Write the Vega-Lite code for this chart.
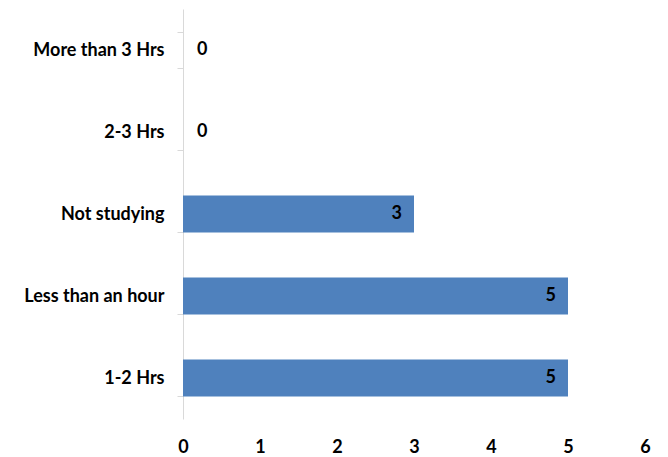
{
  "$schema": "https://vega.github.io/schema/vega-lite/v6.json",
  "width": 462,
  "height": 410,
  "autosize": {"type": "none"},
  "padding": {"left": 183, "top": 9, "right": 23, "bottom": 38},
  "background": "white",
  "data": {
    "values": [
      {"category": "More than 3 Hrs", "count": 0},
      {"category": "2-3 Hrs", "count": 0},
      {"category": "Not studying", "count": 3},
      {"category": "Less than an hour", "count": 5},
      {"category": "1-2 Hrs", "count": 5}
    ]
  },
  "config": {
    "view": {"stroke": null},
    "font": "Lato",
    "axis": {"labelFont": "Lato", "labelFontWeight": "bold", "labelFontSize": 18, "labelColor": "#000000", "title": null}
  },
  "encoding": {
    "y": {
      "field": "category",
      "type": "nominal",
      "sort": ["More than 3 Hrs", "2-3 Hrs", "Not studying", "Less than an hour", "1-2 Hrs"],
      "scale": {"paddingInner": 0.55, "paddingOuter": 0.275},
      "axis": {
        "domainColor": "#d9d9d9",
        "tickColor": "#d9d9d9",
        "tickSize": 6,
        "tickBand": "extent",
        "labelPadding": 13,
        "grid": false
      }
    },
    "x": {
      "field": "count",
      "type": "quantitative",
      "scale": {"domain": [0, 6], "nice": false},
      "axis": {
        "values": [0, 1, 2, 3, 4, 5, 6],
        "domain": false,
        "ticks": false,
        "grid": false,
        "labelPadding": 19,
        "labelFlush": false
      }
    }
  },
  "layer": [
    {"mark": {"type": "bar", "color": "#4f81bd"}},
    {
      "transform": [{"filter": "datum.count > 0"}],
      "mark": {"type": "text", "align": "right", "dx": -12, "fontWeight": "bold", "fontSize": 18, "color": "#000000"},
      "encoding": {"text": {"field": "count", "type": "quantitative"}}
    },
    {
      "transform": [{"filter": "datum.count == 0"}],
      "mark": {"type": "text", "align": "left", "dx": 14, "fontWeight": "bold", "fontSize": 18, "color": "#000000"},
      "encoding": {"text": {"field": "count", "type": "quantitative"}}
    }
  ]
}
